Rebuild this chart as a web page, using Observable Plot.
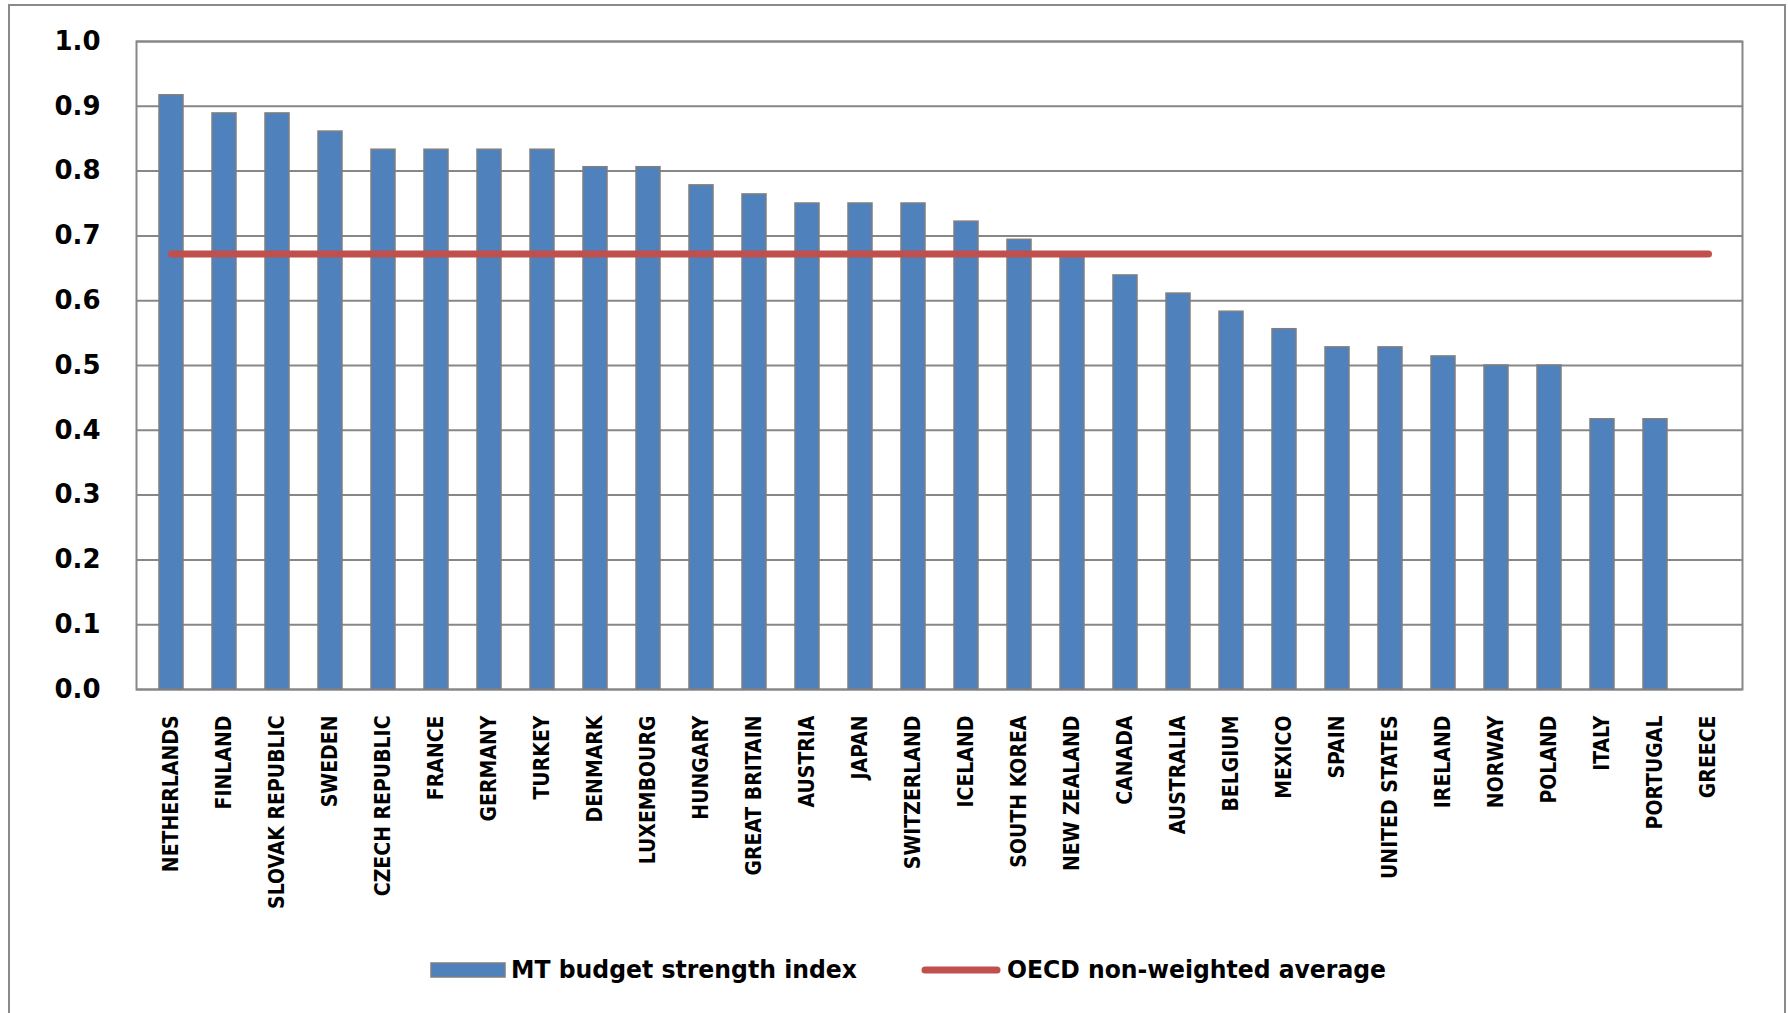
<!DOCTYPE html>
<html>
<head>
<meta charset="utf-8">
<script src="https://cdn.jsdelivr.net/npm/d3@7"></script>
<script src="https://cdn.jsdelivr.net/npm/@observablehq/plot@0.6"></script>
<style>
  html, body { margin: 0; padding: 0; background: #fff; }
  body { width: 1788px; height: 1013px; overflow: hidden; position: relative; }
  #chart { position: absolute; left: 0; top: 0; }
  #frame { position: absolute; left: 8px; top: 4px; width: 1778px; height: 1100px;
           border: 2px solid #8a8a8a; box-sizing: border-box; pointer-events: none; }
  #legend { position: absolute; left: 0; top: 950px; }
  #chart [aria-label^="x-axis"] text {
    font-family: "Liberation Sans Narrow", "DejaVu Sans Condensed", "DejaVu Sans", sans-serif !important;
    font-stretch: condensed; font-weight: bold;
    font-size: 21px !important; fill: #000;
  }
  #chart [aria-label^="y-axis"] text {
    font-family: "DejaVu Sans", sans-serif !important;
    font-weight: bold; font-size: 26px !important; fill: #000;
  }
</style>
</head>
<body>
<div id="chart"></div>
<div id="frame"></div>
<svg id="legend" width="1788" height="50"></svg>
<script>
// ---- data ----
const countries = ["NETHERLANDS","FINLAND","SLOVAK REPUBLIC","SWEDEN","CZECH REPUBLIC","FRANCE","GERMANY","TURKEY","DENMARK","LUXEMBOURG","HUNGARY","GREAT BRITAIN","AUSTRIA","JAPAN","SWITZERLAND","ICELAND","SOUTH KOREA","NEW ZEALAND","CANADA","AUSTRALIA","BELGIUM","MEXICO","SPAIN","UNITED STATES","IRELAND","NORWAY","POLAND","ITALY","PORTUGAL","GREECE"];
const strengthIndex = [0.917,0.889,0.889,0.861,0.833,0.833,0.833,0.833,0.806,0.806,0.778,0.764,0.750,0.750,0.750,0.722,0.694,0.667,0.639,0.611,0.583,0.556,0.528,0.528,0.514,0.500,0.500,0.417,0.417,0];
const oecdAverage = 0.672;
const yTicks = [0,0.1,0.2,0.3,0.4,0.5,0.6,0.7,0.8,0.9,1.0];
const seriesNames = ["MT budget strength index","OECD non-weighted average"];

const data = countries.map((c, i) => ({country: c, value: strengthIndex[i], avg: oecdAverage}));

const blue = "#4f81bd", red = "#c0504d", gridGray = "#878787";

const chart = Plot.plot({
  width: 1788,
  height: 940,
  marginLeft: 136,
  marginRight: 46,
  marginTop: 41,
  marginBottom: 251,
  style: {background: "transparent", overflow: "visible"},
  x: {type: "band", domain: countries, paddingInner: 0.55, paddingOuter: 0.275,
      tickRotate: -90, tickSize: 0, tickPadding: 26, label: null},
  y: {domain: [0, 1], ticks: yTicks, tickFormat: d3.format(".1f"), tickSize: 0, tickPadding: 36, label: null},
  marks: [
    Plot.ruleY(yTicks, {stroke: gridGray, strokeWidth: 2}),
    Plot.frame({stroke: gridGray, strokeWidth: 2}),
    Plot.barY(data.filter(d => d.value > 0), {x: "country", y: "value", fill: blue, stroke: "#7f7f7f", strokeWidth: 1.5}),
    Plot.lineY(data, {x: "country", y: "avg", stroke: red, strokeWidth: 7, strokeLinecap: "round"})
  ]
});
document.getElementById("chart").appendChild(chart);

// ---- legend ----
const lg = d3.select("#legend");
lg.append("rect").attr("x", 431).attr("y", 13).attr("width", 74).attr("height", 14)
  .attr("fill", blue).attr("stroke", "#7f7f7f").attr("stroke-width", 1.5);
lg.append("text").attr("x", 511).attr("y", 28)
  .attr("font-family", "'Liberation Sans Narrow','DejaVu Sans Condensed','DejaVu Sans',sans-serif").attr("font-stretch", "condensed")
  .attr("font-weight", "bold").attr("font-size", 24)
  .attr("textLength", 346).attr("lengthAdjust", "spacingAndGlyphs")
  .text(seriesNames[0]);
lg.append("line").attr("x1", 925).attr("x2", 997).attr("y1", 20).attr("y2", 20)
  .attr("stroke", red).attr("stroke-width", 7).attr("stroke-linecap", "round");
lg.append("text").attr("x", 1007).attr("y", 28)
  .attr("font-family", "'Liberation Sans Narrow','DejaVu Sans Condensed','DejaVu Sans',sans-serif").attr("font-stretch", "condensed")
  .attr("font-weight", "bold").attr("font-size", 24)
  .attr("textLength", 379).attr("lengthAdjust", "spacingAndGlyphs")
  .text(seriesNames[1]);
</script>
</body>
</html>
